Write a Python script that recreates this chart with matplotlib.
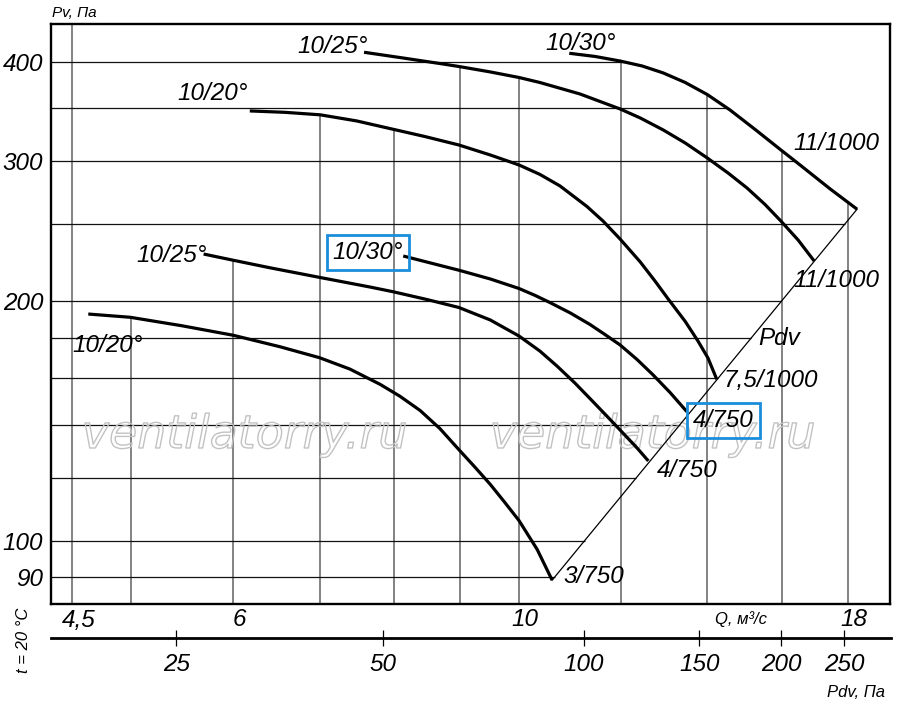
import numpy as np
import matplotlib
matplotlib.use("Agg")
import matplotlib.pyplot as plt
import matplotlib.patheffects as pe
from matplotlib.ticker import FixedLocator, FixedFormatter, NullLocator
from matplotlib.transforms import blended_transform_factory, ScaledTranslation

# ---------------- data: Q (m3/s) and Pv (Pa) ----------------
a_q = [4.63, 4.99, 5.47, 6.0, 6.52, 7.0, 7.39, 7.80, 8.08, 8.38, 8.68, 8.98, 9.24, 9.50,
       9.75, 10.0, 10.33, 10.61]
a_p = [192.8, 191.0, 186.4, 181.3, 175.4, 169.9, 164.4, 157.3, 152.0, 145.8, 138.4, 130.2,
       123.8, 117.7, 111.7, 106.0, 97.5, 89.2]

b_q = [5.69, 6.0, 6.41, 7.01, 7.66, 7.98, 8.48, 8.98, 9.50, 10.0, 10.38, 10.70, 11.05,
       11.35, 11.66, 11.98, 12.35, 12.60]
b_p = [229.4, 225.3, 220.4, 214.3, 208.5, 205.7, 201.1, 196.5, 189.5, 180.9, 173.2, 165.9,
       157.9, 151.0, 144.3, 137.8, 130.8, 126.0]

c_q = [8.13, 8.53, 8.98, 9.50, 10.0, 10.29, 10.57, 10.96, 11.35, 11.66, 11.98, 12.35,
       12.71, 13.10, 13.50]
c_p = [228.1, 223.6, 218.9, 213.4, 207.6, 203.5, 199.3, 193.4, 187.1, 181.7, 176.3, 169.0,
       161.6, 153.6, 145.3]

d_q = [6.18, 6.58, 7.01, 7.48, 7.98, 8.45, 8.98, 9.50, 10.0, 10.38, 10.76, 11.29, 11.62,
       11.98, 12.42, 12.75, 13.05, 13.46, 13.77, 14.02, 14.24]
d_p = [347.2, 345.8, 343.3, 337.3, 329.3, 322.4, 314.6, 305.6, 296.9, 288.9, 279.4, 263.3,
       252.4, 239.6, 224.2, 212.2, 201.6, 188.7, 178.3, 169.7, 159.6]

e_q = [7.58, 8.08, 8.68, 8.98, 9.50, 10.0, 10.38, 11.15, 11.98, 12.42, 12.94, 13.46,
       14.0, 14.53, 15.03, 15.52, 15.97, 16.47, 16.95]
e_p = [411.5, 405.3, 398.3, 394.9, 388.7, 382.5, 377.0, 364.7, 349.2, 340.2, 328.6, 316.4,
       303.0, 290.1, 277.8, 264.9, 252.4, 238.9, 224.8]

f_q = [10.94, 11.46, 11.98, 12.46, 12.94, 13.46, 14.0, 14.58, 15.25, 15.97, 16.47, 17.44, 18.30]
f_p = [410.3, 406.5, 401.2, 395.5, 387.6, 377.0, 364.1, 348.2, 329.1, 310.1, 298.2, 277.0, 261.2]

pdv_line_q = [10.61, 18.30]
pdv_line_p = [89.2, 261.2]

curve_start_labels = ["10/20°", "10/25°", "10/30°", "10/20°", "10/25°", "10/30°"]
curve_end_labels = ["3/750", "4/750", "4/750", "7,5/1000", "11/1000", "11/1000"]

q_ticks = [4.5, 6, 10, 18]
q_tick_labels = ["4,5", "6", "10", "18"]
p_ticks = [90, 100, 200, 300, 400]
p_tick_labels = ["90", "100", "200", "300", "400"]
pdv_ticks = [25, 50, 100, 150, 200, 250]
pdv_tick_q = [5.42, 7.84, 11.23, 13.80, 15.97, 17.88]

vgrid_q = [4.5, 5, 6, 7, 8, 9, 10, 12, 14, 16, 18]
vgrid_until = [None, "A", "B", "D", "D", "E", "E", "F", "F", "F", "F"]
hgrid_p = [90, 100, 120, 140, 160, 180, 200, 250, 300, 350, 400]
hgrid_until = ["pdv"] * 8 + ["F"] * 3

curves = {"A": (a_q, a_p), "B": (b_q, b_p), "C": (c_q, c_p),
          "D": (d_q, d_p), "E": (e_q, e_p), "F": (f_q, f_p),
          "pdv": (pdv_line_q, pdv_line_p)}

# ---------------- figure ----------------
plt.rcParams["font.family"] = ["Liberation Sans", "DejaVu Sans"]
plt.rcParams["font.style"] = "italic"

W, H = 900, 712
fig = plt.figure(figsize=(W / 100, H / 100), dpi=100)
L, R, T, B = 51, 890, 24, 604
ax = fig.add_axes([L / W, 1 - B / H, (R - L) / W, (B - T) / H])
ax.set_xscale("log")
ax.set_yscale("log")
XMIN, XMAX = 4.3315, 19.41
YMIN, YMAX = 83.25, 446.6
ax.set_xlim(XMIN, XMAX)
ax.set_ylim(YMIN, YMAX)

def val_at(q, name):
    Q, P = curves[name]
    return 10 ** np.interp(np.log10(q), np.log10(Q), np.log10(P))

def q_at(p, name):
    Q, P = curves[name]
    Q = np.asarray(Q); P = np.asarray(P)
    if P[0] > P[-1]:
        Q = Q[::-1]; P = P[::-1]
    return 10 ** np.interp(np.log10(p), np.log10(P), np.log10(Q))

# grid (clipped by the curves / Pdv line, as in the original)
for q, stop in zip(vgrid_q, vgrid_until):
    top = YMAX if stop is None else val_at(q, stop)
    ax.vlines(q, YMIN, top, color="#606060", lw=1.1, zorder=1)
for p, stop in zip(hgrid_p, hgrid_until):
    right = q_at(p, stop)
    ax.hlines(p, XMIN, right, color="#111111", lw=0.9, zorder=1)

# watermark (outlined text)
for xc in (0.2312, 0.7175):
    ax.text(xc, 0.269, "ventilatorry.ru", transform=ax.transAxes, ha="center",
            va="baseline", fontsize=33, family="DejaVu Sans", style="oblique",
            color="none", zorder=1.5,
            path_effects=[pe.Stroke(linewidth=1.0, foreground="#c2c2c2")])

# Pdv diagonal
ax.plot(pdv_line_q, pdv_line_p, color="black", lw=0.9, zorder=2)

# curves
order = ["A", "B", "C", "D", "E", "F"]
for name in order:
    Q, P = curves[name]
    ax.plot(Q, P, color="black", lw=2.3, solid_capstyle="butt",
            solid_joinstyle="round", zorder=3)

BOXC = "#1a8ddb"
FS = 17.5
# label offsets in pixels relative to curve start / end: (dx, dy_up, ha, boxed)
start_off = {"A": (-16, -38, "left", False), "B": (3, -8, "right", False),
             "C": (0, -3, "right", True), "D": (-2, 11, "right", False),
             "E": (4, -1, "right", False), "F": (-24, 3, "left", False)}
end_off = {"A": (11, -3, "left", False), "B": (9, -16, "left", False),
           "C": (6, -15, "left", True), "D": (7, -8, "left", False),
           "E": (-21, -26, "left", False), "F": (-64, 59, "left", False)}

for i, name in enumerate(order):
    Q, P = curves[name]
    for lab, (qq, pp), off in ((curve_start_labels[i], (Q[0], P[0]), start_off[name]),
                               (curve_end_labels[i], (Q[-1], P[-1]), end_off[name])):
        dx, dy, ha, boxed = off
        kw = {}
        if boxed:
            kw["bbox"] = dict(boxstyle="square,pad=0.25", fc="none", ec=BOXC, lw=2.0)
        ax.annotate(lab, xy=(qq, pp), xytext=(dx * 0.72, dy * 0.72),
                    textcoords="offset points", ha=ha, va="baseline",
                    fontsize=FS, zorder=4, **kw)

fig.text(758 / W, 1 - 345 / H, "Pdv", fontsize=FS, ha="left", va="baseline")

# axes styling
for s in ax.spines.values():
    s.set_linewidth(1.7)
    s.set_color("black")
ax.xaxis.set_major_locator(FixedLocator(q_ticks))
ax.xaxis.set_major_formatter(FixedFormatter([""] * len(q_ticks)))
ax.xaxis.set_minor_locator(NullLocator())
ax.yaxis.set_major_locator(FixedLocator(p_ticks))
ax.yaxis.set_major_formatter(FixedFormatter(p_tick_labels))
ax.yaxis.set_minor_locator(NullLocator())
ax.tick_params(axis="both", length=0)
ax.tick_params(axis="y", pad=5.5, labelsize=FS)

xtrans = blended_transform_factory(ax.transData, ax.transAxes) + \
    ScaledTranslation(0.06, -0.045, fig.dpi_scale_trans)
for q, lab in zip(q_ticks, q_tick_labels):
    ax.text(q, 0, lab, transform=xtrans, ha="center", va="top", fontsize=FS)

# Pdv scale axis
ax2 = fig.add_axes([L / W, 1 - 637.7 / H, (R + 1 - L) / W, 0.0001])
ax2.set_xscale("log")
ax2.set_xlim(XMIN, XMAX * 1.0016)
ax2.patch.set_visible(False)
for k in ("top", "left", "right"):
    ax2.spines[k].set_visible(False)
ax2.spines["bottom"].set_linewidth(2.0)
ax2.set_yticks([])
ax2.xaxis.set_major_locator(FixedLocator(pdv_tick_q))
ax2.xaxis.set_major_formatter(FixedFormatter([str(v) for v in pdv_ticks]))
ax2.xaxis.set_minor_locator(NullLocator())
ax2.tick_params(axis="x", direction="inout", length=11, width=0.9, pad=5.5,
                labelsize=FS)

# axis captions
fig.text(52 / W, 1 - 17 / H, "Pv, Па", fontsize=11, ha="left", va="baseline")
fig.text(715 / W, 1 - 624 / H, "Q, м³/с", fontsize=12, ha="left", va="baseline")
fig.text(885 / W, 1 - 697 / H, "Pdv, Па", fontsize=12, ha="right", va="baseline")
fig.text(23 / W, 1 - 640 / H, "t = 20 °C", fontsize=12, rotation=90,
         ha="center", va="center")

fig.savefig("out.png", dpi=100)
